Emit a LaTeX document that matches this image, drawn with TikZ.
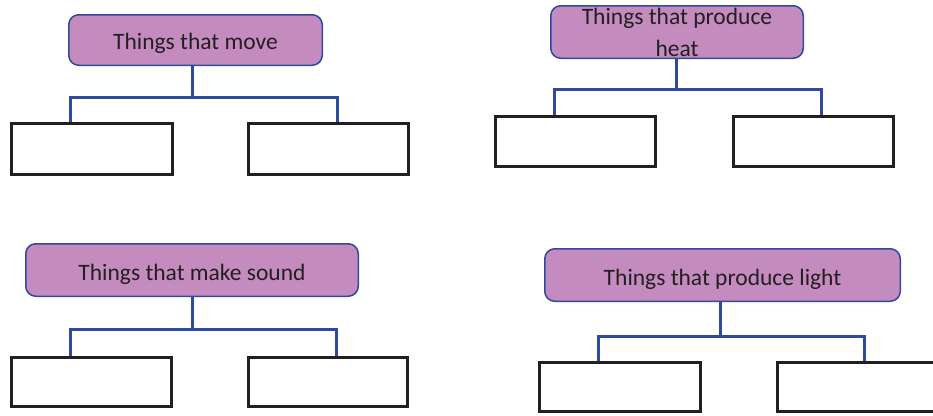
\documentclass[tikz,border=0pt]{standalone}
\usepackage{fontspec}
\setmainfont{Carlito}
\definecolor{headfill}{HTML}{C48BBF}
\definecolor{headline}{HTML}{2F4A9C}
\definecolor{connblue}{HTML}{3049A0}
\definecolor{boxline}{HTML}{231F20}
\definecolor{txt}{HTML}{231F20}
\newcommand{\dropdown}[2]{\raisebox{-#1}{#2}}
\tikzset{
  head/.style={draw=headline, line width=1.5pt, fill=headfill, rounded corners=10pt,
    inner sep=0pt, text=txt, font=\fontsize{23.5}{32}\selectfont},
  blank/.style={draw=boxline, line width=3pt, inner sep=0pt},
  conn/.style={draw=connblue, line width=3pt}
}
\begin{document}
\begin{tikzpicture}[x=1pt, y=-1pt]
\useasboundingbox (0,0) rectangle (933,415);
% group 1
\node[head, minimum width=253.5pt, minimum height=50.5pt] (h1) at (195.5,40) {\smash{\dropdown{9pt}{Things that move}}};
\node[blank, minimum width=161pt, minimum height=51pt] (b1l) at (92,149) {};
\node[blank, minimum width=160pt, minimum height=51pt] (b1r) at (328.5,149) {};
\coordinate (j1) at (192,97);
\coordinate (l1) at (70,97);
\coordinate (r1) at (337,97);
\draw[conn] (h1.south -| j1) -- (j1);
\draw[conn] (b1l.north -| l1) -- (l1) -- (r1) -- (b1r.north -| r1);
% group 2
\node[head, minimum width=252.5pt, minimum height=52.5pt] (h2) at (677,32)
  {\smash{\dropdown{6.5pt}{\parbox[c]{250pt}{\centering Things that produce\\heat}}}};
\node[blank, minimum width=160pt, minimum height=50pt] (b2l) at (575.5,141.5) {};
\node[blank, minimum width=160pt, minimum height=50pt] (b2r) at (813.5,141.5) {};
\coordinate (j2) at (676,89);
\coordinate (l2) at (554,89);
\coordinate (r2) at (821,89);
\draw[conn] (h2.south -| j2) -- (j2);
\draw[conn] (b2l.north -| l2) -- (l2) -- (r2) -- (b2r.north -| r2);
% group 3
\node[head, minimum width=332.5pt, minimum height=52.5pt] (h3) at (192,270) {\smash{\dropdown{10pt}{Things that make sound}}};
\node[blank, minimum width=160pt, minimum height=49pt] (b3l) at (91.5,382) {};
\node[blank, minimum width=159pt, minimum height=49pt] (b3r) at (328,382) {};
\coordinate (j3) at (192,329);
\coordinate (l3) at (70,329);
\coordinate (r3) at (336,329);
\draw[conn] (h3.south -| j3) -- (j3);
\draw[conn] (b3l.north -| l3) -- (l3) -- (r3) -- (b3r.north -| r3);
% group 4
\node[head, minimum width=355.5pt, minimum height=52.5pt] (h4) at (722.5,275) {\smash{\dropdown{10pt}{Things that produce light}}};
\node[blank, minimum width=161pt, minimum height=49pt] (b4l) at (620,387) {};
\node[blank, minimum width=161pt, minimum height=49pt] (b4r) at (858,387) {};
\coordinate (j4) at (720,336);
\coordinate (l4) at (598,336);
\coordinate (r4) at (864,336);
\draw[conn] (h4.south -| j4) -- (j4);
\draw[conn] (b4l.north -| l4) -- (l4) -- (r4) -- (b4r.north -| r4);
\end{tikzpicture}
\end{document}
